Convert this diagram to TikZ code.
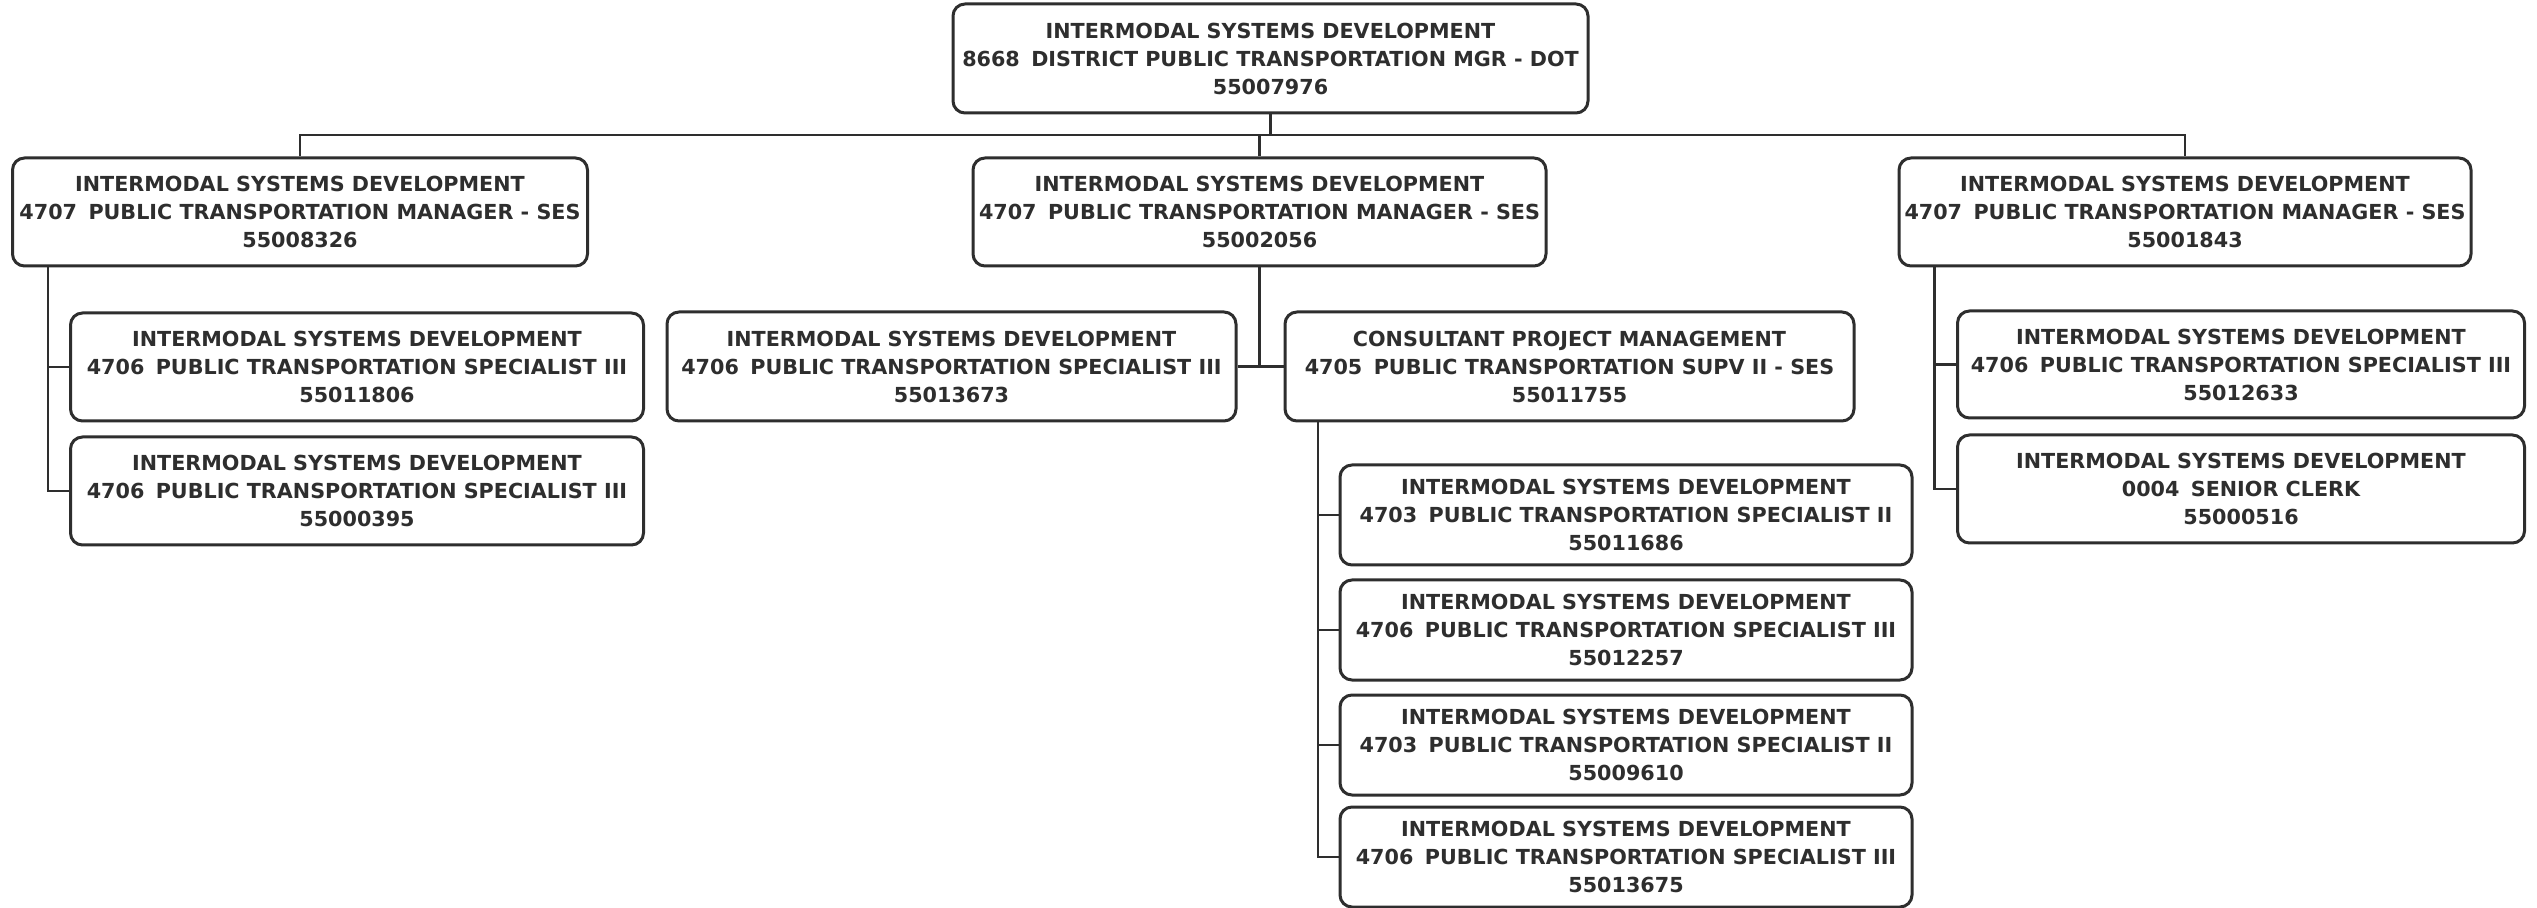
\documentclass[tikz,border=0pt]{standalone}
\usepackage{fontspec}
\setmainfont{DejaVu Sans}
\definecolor{ink}{HTML}{2E2E2E}
\begin{document}
\begin{tikzpicture}[x=0.5pt,y=-0.5pt,
  post/.style={draw=ink, line width=1.5pt, rounded corners=6pt, fill=white,
    align=center, inner sep=0pt, text=ink,
    font=\fontsize{10.35}{14}\selectfont\bfseries},
  wide/.style={minimum width=#1*0.5pt},
  tall/.style={minimum height=#1*0.5pt},
  link/.style={draw=ink, line width=1.3pt}]
\useasboundingbox (0,0) rectangle (2537,908);
\newcommand{\gap}{\hspace{0.55em}}

% director
\node[post, wide=635, tall=109] (top) at (1270.5,58.5)
  {INTERMODAL SYSTEMS DEVELOPMENT\\8668\gap DISTRICT PUBLIC TRANSPORTATION MGR - DOT\\55007976};

% managers
\node[post, wide=575, tall=108] (mgrL) at (300,212)
  {INTERMODAL SYSTEMS DEVELOPMENT\\4707\gap PUBLIC TRANSPORTATION MANAGER - SES\\55008326};
\node[post, wide=573, tall=108] (mgrM) at (1259.5,212)
  {INTERMODAL SYSTEMS DEVELOPMENT\\4707\gap PUBLIC TRANSPORTATION MANAGER - SES\\55002056};
\node[post, wide=572, tall=108] (mgrR) at (2185,212)
  {INTERMODAL SYSTEMS DEVELOPMENT\\4707\gap PUBLIC TRANSPORTATION MANAGER - SES\\55001843};

% left group
\node[post, wide=573, tall=108] (L1) at (357,367)
  {INTERMODAL SYSTEMS DEVELOPMENT\\4706\gap PUBLIC TRANSPORTATION SPECIALIST III\\55011806};
\node[post, wide=573, tall=108] (L2) at (357,491)
  {INTERMODAL SYSTEMS DEVELOPMENT\\4706\gap PUBLIC TRANSPORTATION SPECIALIST III\\55000395};

% middle group
\node[post, wide=569, tall=109] (M1) at (951.5,366.5)
  {INTERMODAL SYSTEMS DEVELOPMENT\\4706\gap PUBLIC TRANSPORTATION SPECIALIST III\\55013673};
\node[post, wide=569, tall=109] (cons) at (1569.5,366.5)
  {CONSULTANT PROJECT MANAGEMENT\\4705\gap PUBLIC TRANSPORTATION SUPV II - SES\\55011755};

% consultant group
\node[post, wide=572, tall=100] (C1) at (1626,515)
  {INTERMODAL SYSTEMS DEVELOPMENT\\4703\gap PUBLIC TRANSPORTATION SPECIALIST II\\55011686};
\node[post, wide=572, tall=100] (C2) at (1626,630)
  {INTERMODAL SYSTEMS DEVELOPMENT\\4706\gap PUBLIC TRANSPORTATION SPECIALIST III\\55012257};
\node[post, wide=572, tall=100] (C3) at (1626,745)
  {INTERMODAL SYSTEMS DEVELOPMENT\\4703\gap PUBLIC TRANSPORTATION SPECIALIST II\\55009610};
\node[post, wide=572, tall=100] (C4) at (1626,857)
  {INTERMODAL SYSTEMS DEVELOPMENT\\4706\gap PUBLIC TRANSPORTATION SPECIALIST III\\55013675};

% right group
\node[post, wide=567, tall=107] (R1) at (2241,364.5)
  {INTERMODAL SYSTEMS DEVELOPMENT\\4706\gap PUBLIC TRANSPORTATION SPECIALIST III\\55012633};
\node[post, wide=567, tall=108] (R2) at (2241,489)
  {INTERMODAL SYSTEMS DEVELOPMENT\\0004\gap SENIOR CLERK\\55000516};

% connector anchors
\coordinate (bar) at (0,135);
\coordinate (Ltrunk) at (48,266);
\coordinate (Ctrunk) at (1318,421);
\coordinate (Rtrunk) at (1934.5,266);

% director to managers
\draw[link] (top.south) -- (top.south |- bar);
\draw[link] (mgrL.north) -- (mgrL.north |- bar) -- (mgrR.north |- bar) -- (mgrR.north);
\draw[link] (mgrM.north) -- (mgrM.north |- bar);

% left manager
\draw[link] (Ltrunk) |- (L2.west);
\draw[link] (Ltrunk |- L1.west) -- (L1.west);

% middle manager
\draw[link] (mgrM.south) -- (mgrM.south |- M1.east);
\draw[link] (M1.east) -- (cons.west);

% consultant
\draw[link] (Ctrunk) |- (C4.west);
\draw[link] (Ctrunk |- C1.west) -- (C1.west);
\draw[link] (Ctrunk |- C2.west) -- (C2.west);
\draw[link] (Ctrunk |- C3.west) -- (C3.west);

% right manager
\draw[link] (Rtrunk) |- (R2.west);
\draw[link] (Rtrunk |- R1.west) -- (R1.west);
\end{tikzpicture}
\end{document}
